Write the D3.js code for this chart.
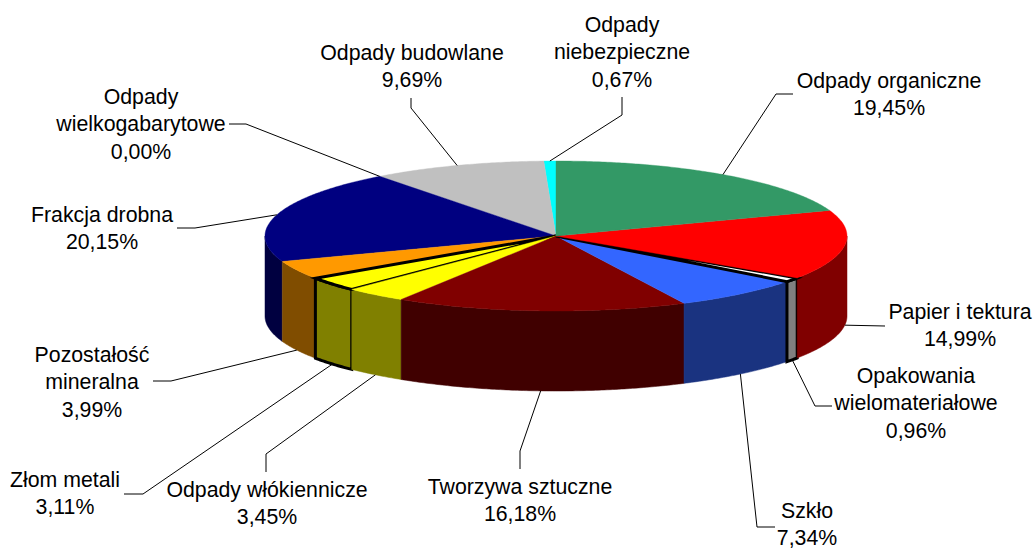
<!DOCTYPE html>
<html><head><meta charset="utf-8">
<style>html,body{margin:0;padding:0;background:#fff;overflow:hidden}svg{display:block}text{font-family:"Liberation Sans",Arial,sans-serif;fill:#000}</style>
<script src="https://cdn.jsdelivr.net/npm/d3@7"></script>
</head><body><svg id="c" width="1034" height="549"></svg>
<script>
const categories=["Odpady organiczne","Papier i tektura","Opakowania|wielomateriałowe","Szkło","Tworzywa sztuczne","Odpady włókiennicze","Złom metali","Pozostałość|mineralna","Frakcja drobna","Odpady|wielkogabarytowe","Odpady budowlane","Odpady|niebezpieczne"];
const values=[19.45,14.99,0.96,7.34,16.18,3.45,3.11,3.99,20.15,0.00,9.69,0.67];
const topColors=["#339966","#ff0000","#ffffff","#3366ff","#800000","#ffff00","#ffff00","#ff9900","#000080","#ffffff","#c0c0c0","#00ffff"];
const sideColors=["#1a4d33","#800000","#808080","#1a3380","#400000","#808000","#808000","#804d00","#000040","#808080","#606060","#008080"];
const outlined=["Opakowania|wielomateriałowe","Złom metali"];

// Layout of the chart furniture (not data)
const cx=556,cy=236,rx=291,ry=75,depth=80,fontSize=21.3,lineH=27.4;
const elbows=[[[776,94],[793,94]],[[885,326]],[[815,406],[832,406]],[[757,527],[775,527]],[[520,451],[520,469]],[[266,454],[266,472]],[[143,494],[124,494]],[[171,381],[153,381]],[[195,228],[177,228]],[[246,124],[229,124]],[[411,108],[411,98]],[[622,115],[622,97]]];
const labelAt=[[889,88],[960,319],[916,383],[807,518],[520,494],[267,497],[65,487],[92,362],[102,222],[141,104],[412,60],[622,32]];

const svg=d3.select("#c");
const fmt=v=>v.toFixed(2).replace(".",",")+"%";
const xs=d3.scaleLinear().domain([-1,1]).range([cx-rx,cx+rx]);
const ys=d3.scaleLinear().domain([-1,1]).range([cy-ry,cy+ry]);
const pt=(a,z=0)=>[xs(Math.sin(a)),ys(-Math.cos(a))+z];
const pie=d3.pie().sort(null).value(d=>d.v).startAngle(0).endAngle(2*Math.PI);
const rows=categories.map((c,i)=>({c,v:values[i],top:topColors[i],side:sideColors[i],i,ol:outlined.includes(c)}));
const arcs=pie(rows);
const arcPts=(a0,a1,z)=>{const n=Math.max(2,Math.ceil((a1-a0)/0.01));return d3.range(n+1).map(k=>pt(a0+(a1-a0)*k/n,z));};
const line=d3.line();
const order=arcs.slice().reverse().filter(a=>a.data.v>0);

// side walls (visible for the front half only)
const lo=Math.PI/2,hi=Math.PI*1.5;
svg.append("g").selectAll("path").data(order.filter(a=>a.endAngle>lo&&a.startAngle<hi)).join("path")
 .attr("d",a=>{const s=Math.max(a.startAngle,lo),e=Math.min(a.endAngle,hi);
   return line(arcPts(s,e,0).concat(arcPts(s,e,depth).reverse()))+"Z";})
 .attr("fill",a=>a.data.side)
 .attr("stroke",a=>a.data.ol?"#000":a.data.side)
 .attr("stroke-width",a=>a.data.ol?3:0.5)
 .attr("stroke-linejoin","miter");

// top faces
svg.append("g").selectAll("path").data(order).join("path")
 .attr("d",a=>line([[cx,cy]].concat(arcPts(a.startAngle,a.endAngle,0)))+"Z")
 .attr("fill",a=>a.data.top)
 .attr("stroke",a=>a.data.ol?"#000":a.data.top)
 .attr("stroke-width",a=>a.data.ol?3:0.4)
 .attr("stroke-linejoin","miter");

// leader lines
svg.append("g").selectAll("path").data(arcs).join("path")
 .attr("d",a=>{const m=(a.startAngle+a.endAngle)/2;const front=Math.cos(m)<0&&Math.abs(Math.sin(m))<1;
   return line([pt(m,front?depth:0)].concat(elbows[a.data.i]));})
 .attr("fill","none").attr("stroke","#000").attr("stroke-width",1);

// labels
const lab=svg.append("g").selectAll("text").data(rows).join("text")
 .attr("text-anchor","middle").attr("font-size",fontSize);
lab.each(function(d){const t=d3.select(this);const ls=d.c.split("|").concat(fmt(d.v));
  ls.forEach((s,j)=>t.append("tspan").attr("x",labelAt[d.i][0]).attr("y",labelAt[d.i][1]+j*lineH).text(s));});
</script></body></html>
